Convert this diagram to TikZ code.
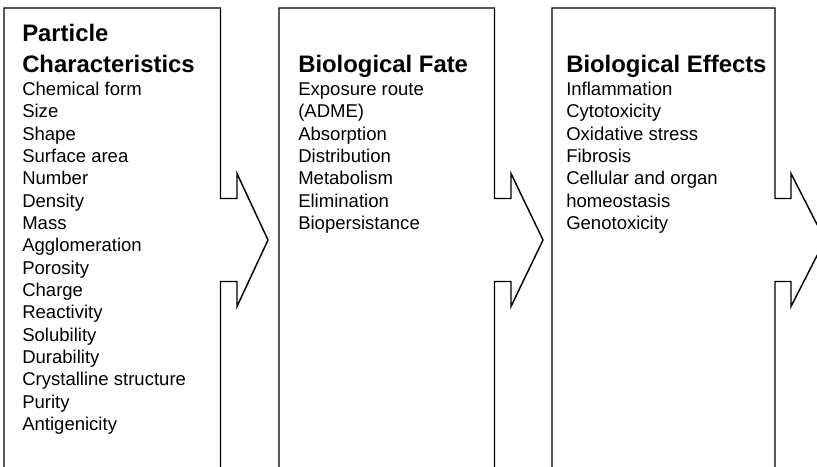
\documentclass[tikz,border=0pt]{standalone}
\usepackage{fontspec}
\setmainfont{Liberation Sans}
\usepackage{tikz}
\usetikzlibrary{positioning}

\begin{document}
\begin{tikzpicture}[
            x=0.75pt, y=-0.75pt,
            outline/.style={draw=black, line width=1.1pt, line join=miter},
            head/.style={anchor=base west, inner sep=0pt, font=\fontsize{17.9pt}{22.5pt}\selectfont\bfseries},
            item/.style={anchor=base west, inner sep=0pt, font=\fontsize{13.9pt}{16.75pt}\selectfont}
        ]

        \useasboundingbox (0,0) rectangle (817,467);
        \clip (0,0) rectangle (817,467);

        % Outlines (box with arrow on the right side)
        \foreach \l/\r/\o/\t in {4/220.5/237/268, 279/494.5/511/543, 552/775/791/825}
            \draw[outline] (\l,470) -- (\l,8) -- (\r,8) -- (\r,198.5) -- (\o,198.5)
                -- (\o,173.5) -- (\t,240) -- (\o,306.5) -- (\o,281.5) -- (\r,281.5) -- (\r,470);

        % Headings
        \node[head] (pc1) at (22,42) {Particle};
        \node[head] (pc2) at (22,72.5) {Characteristics};
        \node[head] (bf) at (298,72.5) {Biological Fate};
        \node[head] (be) at (566,72.5) {Biological Effects};

        % Items
        \foreach \txt [count=\i] in {Chemical form, Size, Shape, Surface area, Number,
                Density, Mass, Agglomeration, Porosity, Charge, Reactivity, Solubility,
                Durability, Crystalline structure, Purity, Antigenicity}
            \node[item] (pc-\i) at (22,{95.5+22.33*(\i-1)}) {\txt};

        \foreach \txt [count=\i] in {Exposure route, (ADME), Absorption, Distribution,
                Metabolism, Elimination, Biopersistance}
            \node[item] (bf-\i) at (298,{95.5+22.33*(\i-1)}) {\txt};

        \foreach \txt [count=\i] in {Inflammation, Cytotoxicity, Oxidative stress, Fibrosis,
                Cellular and organ, homeostasis, Genotoxicity}
            \node[item] (be-\i) at (566,{95.5+22.33*(\i-1)}) {\txt};

    \end{tikzpicture}
\end{document}
